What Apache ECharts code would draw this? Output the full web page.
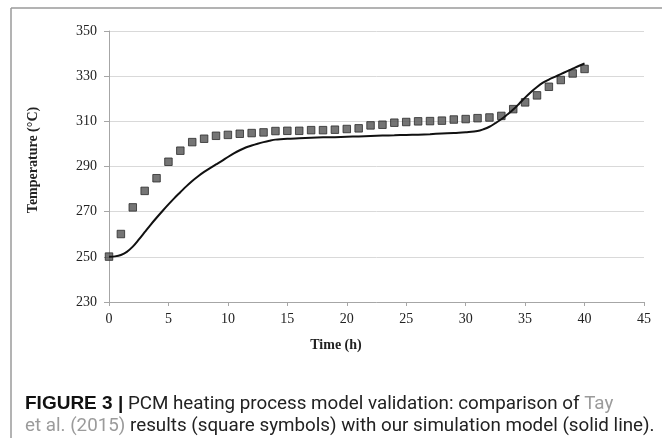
<!DOCTYPE html>
<html>
<head>
<meta charset="utf-8">
<script src="https://cdn.jsdelivr.net/npm/echarts@6/dist/echarts.min.js"></script>
<style>
html, body { margin: 0; padding: 0; background: #fff; }
#chart { width: 662px; height: 438px; }
</style>
</head>
<body>
<div id="chart"></div>
<script>
// Tay et al. (2015), square symbols
var squareTime = [0, 1, 2, 3, 4, 5, 6, 7, 8, 9, 10, 11, 12, 13, 14, 15, 16, 17, 18, 19, 20,
    21, 22, 23, 24, 25, 26, 27, 28, 29, 30, 31, 32, 33, 34, 35, 36, 37, 38, 39, 40];
var squareTemp = [250.1, 260.1, 271.9, 279.2, 284.8, 292.1, 297.0, 300.8, 302.3, 303.6, 304.0,
    304.5, 304.8, 305.1, 305.7, 305.8, 305.8, 306.1, 306.1, 306.3, 306.6,
    306.9, 308.2, 308.5, 309.4, 309.7, 310.0, 310.1, 310.3, 310.8, 311.0,
    311.4, 311.7, 312.4, 315.4, 318.4, 321.5, 325.3, 328.3, 331.2, 333.2];

// simulation model, solid line
var lineTime = [0, 0.5, 1, 1.5, 2, 2.5, 3, 3.5, 4, 4.5, 5, 5.5, 6, 6.5, 7, 7.5, 8, 8.5, 9, 9.5,
    10, 10.5, 11, 11.5, 12, 12.5, 13, 13.5, 14, 15, 16, 17, 18, 19, 20, 21, 22, 23, 24, 25,
    26, 27, 28, 29, 30, 31, 31.5, 32, 32.5, 33, 33.5, 34, 34.5, 35, 35.5, 36, 36.5, 37, 37.5,
    38, 38.5, 39, 39.5, 40];
var lineTemp = [250.0, 250.2, 250.8, 252.2, 254.5, 257.6, 260.9, 264.2, 267.3, 270.3, 273.2,
    276.0, 278.6, 281.2, 283.6, 285.7, 287.6, 289.3, 290.9, 292.5,
    294.2, 295.8, 297.2, 298.4, 299.3, 300.1, 300.8, 301.4, 301.9, 302.3, 302.5, 302.7,
    302.9, 303.0, 303.2, 303.3, 303.5, 303.7, 303.8, 304.0,
    304.1, 304.3, 304.6, 304.8, 305.2, 305.7, 306.5, 307.6, 309.2, 310.9, 313.0, 315.2,
    317.8, 320.5, 323.0, 325.2, 327.1, 328.5, 329.7,
    330.9, 332.1, 333.3, 334.5, 335.6];

var xTicks = [0, 45, 5];     // min, max, step
var yTicks = [230, 350, 20];

var serif = '"Liberation Serif", "DejaVu Serif", serif';
var sans = 'Roboto, "Liberation Sans", sans-serif';

var squares = [];
for (var i = 0; i < squareTime.length; i++) {
    squares.push([squareTime[i], squareTemp[i]]);
}
var model = [];
for (var j = 0; j < lineTime.length; j++) {
    model.push([lineTime[j], lineTemp[j]]);
}

var myChart = echarts.init(document.getElementById('chart'));
var option = {
    animation: false,
    backgroundColor: '#fff',
    grid: {
        left: 109,
        right: 18,
        top: 31,
        bottom: 136
    },
    xAxis: {
        type: 'value',
        min: xTicks[0],
        max: xTicks[1],
        interval: xTicks[2],
        axisLine: { lineStyle: { color: '#a6a6a6', width: 1 } },
        axisTick: { show: true, length: 4, lineStyle: { color: '#a6a6a6' } },
        axisLabel: { color: '#222', fontFamily: serif, fontSize: 14, margin: 10 },
        splitLine: { show: false }
    },
    yAxis: {
        type: 'value',
        min: yTicks[0],
        max: yTicks[1],
        interval: yTicks[2],
        axisLine: { show: true, lineStyle: { color: '#a6a6a6', width: 1 } },
        axisTick: { show: true, length: 5, lineStyle: { color: '#a6a6a6' } },
        axisLabel: { color: '#222', fontFamily: serif, fontSize: 14, margin: 12 },
        splitLine: { lineStyle: { color: '#d9d9d9', width: 1 } }
    },
    series: [
        {
            name: 'Tay et al. (2015)',
            type: 'scatter',
            data: squares,
            symbol: 'rect',
            symbolSize: 7.5,
            itemStyle: { color: '#525252', borderColor: '#2b2b2b', borderWidth: 1 },
            z: 3
        },
        {
            name: 'Simulation model',
            type: 'line',
            data: model,
            showSymbol: false,
            smooth: 0.3,
            lineStyle: { color: '#111', width: 2 },
            z: 4
        }
    ],
    graphic: [
        // frame
        { type: 'line', shape: { x1: 11, y1: 8, x2: 662, y2: 8 }, style: { stroke: '#9a9a9a', lineWidth: 1.5 } },
        { type: 'line', shape: { x1: 11, y1: 8, x2: 11, y2: 438 }, style: { stroke: '#9a9a9a', lineWidth: 1.5 } },
        // axis names
        {
            type: 'text', x: 33, y: 160, rotation: Math.PI / 2,
            style: { text: 'Temperature (°C)', font: 'bold 14px ' + serif, fill: '#222', align: 'center', verticalAlign: 'middle' }
        },
        {
            type: 'text', x: 336, y: 345,
            style: { text: 'Time (h)', font: 'bold 14px ' + serif, fill: '#222', align: 'center', verticalAlign: 'middle' }
        },
        // caption
        {
            type: 'text', x: 25, y: 393,
            style: {
                text: '{b|FIGURE 3 |} PCM heating process model validation: comparison of {g|Tay}\n{g|et al. (2015)} results (square symbols) with our simulation model (solid line).',
                font: '18.8px ' + sans,
                fill: '#222',
                lineHeight: 22,
                rich: {
                    b: { fontWeight: 'bold', fontSize: 19, fontFamily: '"Liberation Sans", Roboto, sans-serif', fill: '#111', lineHeight: 22 },
                    g: { fontSize: 18.8, fontFamily: sans, fill: '#9b9b9b', lineHeight: 22 }
                }
            }
        }
    ]
};
myChart.setOption(option);
</script>
</body>
</html>
